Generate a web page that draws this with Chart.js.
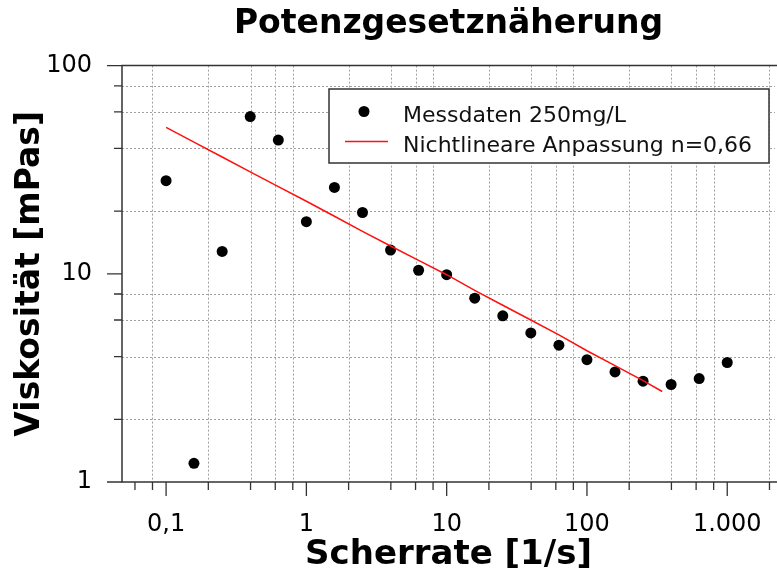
<!DOCTYPE html>
<html>
<head>
<meta charset="utf-8">
<script src="https://cdn.jsdelivr.net/npm/chart.js@4.4.0/dist/chart.umd.min.js"></script>
<style>
html,body{margin:0;padding:0;background:#fff;overflow:hidden;width:777px;height:580px}
#wrap{width:782px;height:580px}
canvas{display:block}
</style>
</head>
<body>
<div id="wrap"><canvas id="c" width="782" height="580"></canvas></div>
<script>
const titleText = 'Potenzgesetznäherung';
const xTitle = 'Scherrate [1/s]';
const yTitle = 'Viskosität [mPas]';
const seriesNames = ['Messdaten 250mg/L', 'Nichtlineare Anpassung n=0,66'];

const shearRate = [0.1, 0.158, 0.251, 0.398, 0.631, 1, 1.585, 2.512, 3.981, 6.31, 10, 15.85, 25.12, 39.81, 63.1, 100, 158.5, 251.2, 398.1, 631, 1000];
const viscosity = [28.0, 1.23, 12.8, 56.9, 43.9, 17.8, 26.0, 19.7, 13.0, 10.4, 9.9, 7.64, 6.28, 5.2, 4.54, 3.87, 3.38, 3.05, 2.94, 3.14, 3.75];

const fitShearRate = [0.1, 0.158, 0.251, 0.398, 0.631, 1, 1.585, 2.512, 3.981, 6.31, 10, 15.85, 25.12, 39.81, 63.1, 100, 158.5, 251.2, 344];
const fitViscosity = [50.5, 42.9, 36.4, 30.9, 26.2, 22.3, 18.9, 16.0, 13.6, 11.6, 9.9, 8.32, 7.06, 6.0, 5.09, 4.27, 3.62, 3.07, 2.72];

const xMajorTicks = [0.1, 1, 10, 100, 1000];
const xTickLabels = ['0,1', '1', '10', '100', '1.000'];
const xMinorTicks = [0.06, 0.08, 0.2, 0.4, 0.6, 0.8, 2, 4, 6, 8, 20, 40, 60, 80, 200, 400, 600, 800, 2000];
const xGridLines = [0.08, 0.2, 0.4, 0.6, 0.8, 2, 4, 6, 8, 20, 40, 60, 80, 200, 400, 600, 800, 2000];
const yMajorTicks = [1, 10, 100];
const yTickLabels = ['1', '10', '100'];
const yMinorTicks = [2, 4, 6, 8, 20, 40, 60, 80];
const yGridLines = [2, 4, 6, 8, 20, 40, 60, 80];

Chart.defaults.font.family = "'DejaVu Sans', Verdana, sans-serif";
Chart.defaults.color = '#000';

const framePlugin = {
  id: 'framePlugin',
  afterLayout(chart) {
    const t = chart.titleBlock, a = chart.chartArea;
    if (t) { t.left = a.left; t.right = a.right; t.width = a.right - a.left; }
  },
  beforeDatasetsDraw(chart) {
    const {ctx, chartArea: a, scales: {x, y}} = chart;
    ctx.save();
    ctx.strokeStyle = '#a0a0a0';
    ctx.lineWidth = 1;
    ctx.setLineDash([2, 2]);
    ctx.beginPath();
    xGridLines.forEach(v => {
      const px = Math.round(x.getPixelForValue(v)) + 0.5;
      if (px > a.left + 1 && px < a.right - 1) { ctx.moveTo(px, a.top); ctx.lineTo(px, a.bottom); }
    });
    yGridLines.forEach(v => {
      const py = Math.round(y.getPixelForValue(v)) + 0.5;
      ctx.moveTo(a.left, py); ctx.lineTo(a.right, py);
    });
    ctx.stroke();
    ctx.restore();
  },
  afterDraw(chart) {
    const {ctx, chartArea: a, scales: {x, y}} = chart;
    ctx.save();
    ctx.strokeStyle = '#333';
    ctx.lineWidth = 1.5;
    ctx.beginPath();
    ctx.moveTo(a.right + 2, a.top); ctx.lineTo(a.left, a.top); ctx.lineTo(a.left, a.bottom); ctx.lineTo(a.right + 2, a.bottom);
    ctx.stroke();
    ctx.lineWidth = 1.3;
    ctx.beginPath();
    xMajorTicks.forEach(v => { const px = x.getPixelForValue(v); ctx.moveTo(px, a.bottom); ctx.lineTo(px, a.bottom + 14); });
    xMinorTicks.forEach(v => { const px = x.getPixelForValue(v); if (px < a.right) { ctx.moveTo(px, a.bottom); ctx.lineTo(px, a.bottom + 8); } });
    yMajorTicks.forEach(v => { const py = y.getPixelForValue(v); ctx.moveTo(a.left, py); ctx.lineTo(a.left - 15, py); });
    yMinorTicks.forEach(v => { const py = y.getPixelForValue(v); ctx.moveTo(a.left, py); ctx.lineTo(a.left - 8, py); });
    ctx.stroke();

    // legend
    const ds = chart.data.datasets;
    const bx = 329, by = 89, bw = 440, bh = 74;
    ctx.fillStyle = '#fff';
    ctx.fillRect(bx, by, bw, bh);
    ctx.strokeStyle = '#333';
    ctx.lineWidth = 1.5;
    ctx.strokeRect(bx, by, bw, bh);
    ctx.fillStyle = ds[0].pointBackgroundColor;
    ctx.beginPath();
    ctx.arc(bx + 35, by + 22.5, ds[0].pointRadius, 0, Math.PI * 2);
    ctx.fill();
    ctx.strokeStyle = ds[1].borderColor;
    ctx.lineWidth = ds[1].borderWidth;
    ctx.beginPath();
    ctx.moveTo(bx + 16, by + 52.5); ctx.lineTo(bx + 59, by + 52.5);
    ctx.stroke();
    ctx.fillStyle = '#111';
    ctx.font = "22px 'DejaVu Sans'";
    ctx.textBaseline = 'alphabetic';
    ctx.textAlign = 'left';
    ctx.fillText(ds[0].label, bx + 74, by + 32.5);
    ctx.fillText(ds[1].label, bx + 74, by + 62.5);
    ctx.restore();
  }
};

new Chart(document.getElementById('c'), {
  type: 'scatter',
  data: {
    datasets: [
      {
        label: seriesNames[0],
        data: shearRate.map((v, i) => ({x: v, y: viscosity[i]})),
        pointRadius: 5.5,
        pointBackgroundColor: '#000',
        pointBorderWidth: 0,
        showLine: false,
        order: 1
      },
      {
        label: seriesNames[1],
        data: fitShearRate.map((v, i) => ({x: v, y: fitViscosity[i]})),
        showLine: true,
        borderColor: '#ff1010',
        borderWidth: 1.5,
        pointRadius: 0,
        fill: false,
        tension: 0,
        order: 0
      }
    ]
  },
  options: {
    responsive: false,
    animation: false,
    devicePixelRatio: 1,
    layout: {padding: 0},
    plugins: {
      legend: {display: false},
      tooltip: {enabled: false},
      title: {
        display: true,
        text: titleText,
        color: '#000',
        font: {size: 33, weight: 'bold', lineHeight: 1.2},
        padding: {top: 5, bottom: 21}
      }
    },
    scales: {
      x: {
        type: 'logarithmic',
        min: 0.0485,
        max: 2190,
        bounds: 'data',
        grid: {display: false},
        border: {display: false},
        afterBuildTicks: s => { s.ticks = xMajorTicks.map(v => ({value: v})); },
        afterFit: s => { s.height = 98; },
        ticks: {
          autoSkip: false, maxRotation: 0, minRotation: 0, padding: 20, color: '#000',
          font: {size: 24},
          callback: (v, i) => xTickLabels[i]
        },
        title: {
          display: true, text: xTitle, color: '#000',
          font: {size: 34, weight: 'bold', lineHeight: 1.2},
          padding: {top: 0, bottom: 4}
        }
      },
      y: {
        type: 'logarithmic',
        min: 1,
        max: 100,
        bounds: 'data',
        grid: {display: false},
        border: {display: false},
        afterBuildTicks: s => { s.ticks = yMajorTicks.map(v => ({value: v})); },
        afterFit: s => { s.width = 122; },
        ticks: {
          autoSkip: false, padding: 22, color: '#000',
          font: {size: 24},
          callback: (v, i) => yTickLabels[i]
        },
        title: {
          display: true, text: yTitle, color: '#000',
          font: {size: 33, weight: 'bold', lineHeight: 1.2},
          padding: {top: 11, bottom: 0}
        }
      }
    }
  },
  plugins: [framePlugin]
});
</script>
</body>
</html>
